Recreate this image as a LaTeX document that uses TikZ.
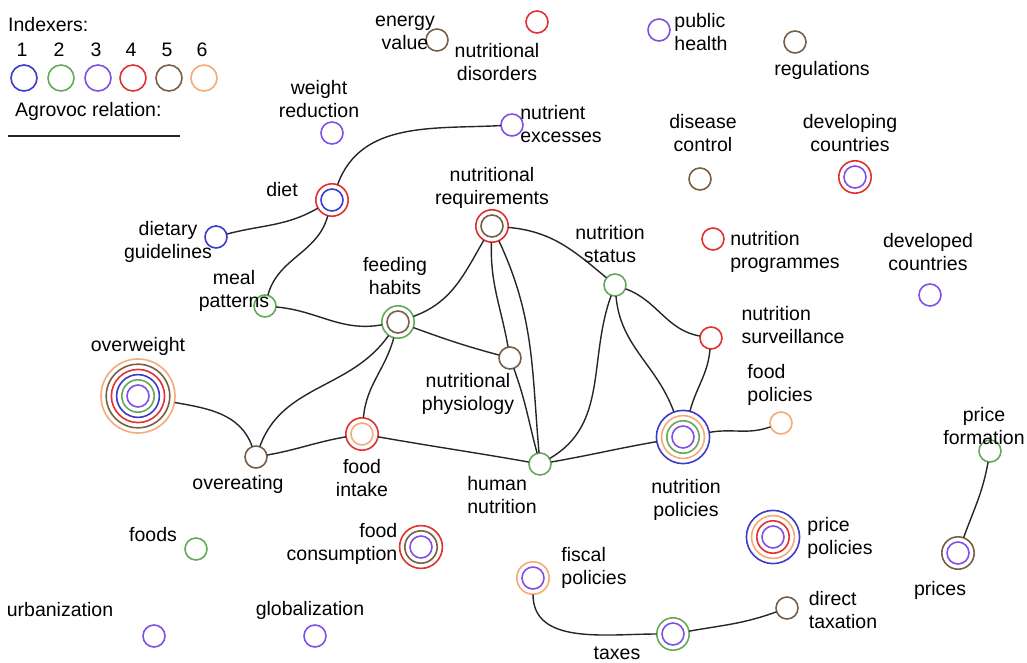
\documentclass[tikz,border=0pt]{standalone}
\usepackage{fontspec}
\setmainfont{Liberation Sans}
\definecolor{c1}{RGB}{60,60,200}
\definecolor{c2}{RGB}{100,170,90}
\definecolor{c3}{RGB}{130,80,230}
\definecolor{c4}{RGB}{225,50,50}
\definecolor{c5}{RGB}{120,95,70}
\definecolor{c6}{RGB}{245,170,120}
\newcommand\rnode[4]{%
  \pgfmathsetmacro\dout{2*(11+(#3-1)*5.2)}%
  \node[circle,inner sep=0pt,minimum size=\dout pt] (#1) at (#2) {};
  \fill[white] (#1.center) circle[radius=11pt];
  \foreach \col [count=\i] in {#4}{\draw[\col,line width=1.6pt] (#1.center) circle[radius={11pt+(\i-1)*5.2pt}];}
}
\tikzset{
  lab/.style={font=\fontsize{19.5}{23}\selectfont, align=center, inner sep=0pt},
  rel/.style={draw=black!85, line width=1.4pt},
  legc/.style={circle,draw=#1,line width=1.6pt,minimum size=26pt,inner sep=0pt}
}
\begin{document}
\begin{tikzpicture}[x=1pt,y=1pt]
\useasboundingbox (0,0) rectangle (1027,-663);
% legend
\node[lab,anchor=west] (legt) at (8,-25) {Indexers:};
\foreach \n/\x/\col in {1/22/c1,2/59/c2,3/96/c3,4/131/c4,5/167/c5,6/202/c6}{
  \node[lab] (legn\n) at (\x,-50) {\n};
  \node[legc=\col] (legc\n) at (\x+2,-78) {};
}
\node[lab,anchor=west] (legr) at (15,-111) {Agrovoc relation:};
\coordinate (lrA) at (8,-136);
\coordinate (lrB) at (180,-136);
\draw[rel] (lrA) -- (lrB);

% nodes
\rnode{energy}{437,-40}{1}{c5}
\rnode{disorders}{537,-22}{1}{c4}
\rnode{public}{659,-30}{1}{c3}
\rnode{regul}{795,-42}{1}{c5}
\rnode{weight}{332,-133}{1}{c3}
\rnode{excess}{512,-125}{1}{c3}
\rnode{disease}{700,-179}{1}{c5}
\rnode{developing}{855,-177}{2}{c3,c4}
\rnode{nutreq}{492,-226}{2}{c5,c4}
\rnode{diet}{332,-200}{2}{c1,c4}
\rnode{guide}{216,-237}{1}{c1}
\rnode{meal}{265,-306}{1}{c2}
\rnode{feeding}{398,-322}{2}{c5,c2}
\rnode{status}{615,-285}{1}{c2}
\rnode{program}{713,-239}{1}{c4}
\rnode{developed}{930,-295}{1}{c3}
\rnode{surv}{711,-338}{1}{c4}
\rnode{overweight}{138,-396}{6}{c3,c2,c1,c4,c5,c6}
\rnode{physio}{510,-358}{1}{c5}
\rnode{foodpol}{781,-423}{1}{c6}
\rnode{priceform}{990,-451}{1}{c2}
\rnode{intake}{362,-434}{2}{c6,c4}
\rnode{overeat}{256,-457}{1}{c5}
\rnode{human}{540,-464}{1}{c2}
\rnode{nutpol}{683,-437}{4}{c3,c2,c6,c1}
\rnode{foods}{196,-549}{1}{c2}
\rnode{consum}{421,-547}{3}{c3,c5,c4}
\rnode{pricepol}{773,-537}{4}{c3,c4,c6,c1}
\rnode{prices}{958,-553}{2}{c3,c5}
\rnode{fiscal}{533,-578}{2}{c3,c6}
\rnode{direct}{787,-608}{1}{c5}
\rnode{taxes}{673,-634}{2}{c3,c2}
\rnode{urban}{154,-636}{1}{c3}
\rnode{global}{315,-636}{1}{c3}

% labels
\node[lab] (lenergy) at (405,-33) {energy\\value};
\node[lab] (ldisorders) at (497,-62) {nutritional\\disorders};
\node[lab,align=left] (lpublic) at (701,-32) {public\\health};
\node[lab] (lregul) at (822,-70) {regulations};
\node[lab] (lweight) at (319,-99) {weight\\reduction};
\node[lab,align=left] (lexcess) at (561,-124) {nutrient\\excesses};
\node[lab] (ldisease) at (703,-133) {disease\\control};
\node[lab] (ldeveloping) at (850,-133) {developing\\countries};
\node[lab] (lnutreq) at (492,-188) {nutritional\\requirements};
\node[lab] (ldiet) at (282,-190) {diet};
\node[lab] (lguide) at (168,-242) {dietary\\guidelines};
\node[lab] (lmeal) at (234,-291) {meal\\patterns};
\node[lab] (lfeeding) at (395,-276) {feeding\\habits};
\node[lab] (lstatus) at (610,-244) {nutrition\\status};
\node[lab,align=left] (lprogram) at (785,-252) {nutrition\\programmes};
\node[lab] (ldeveloped) at (928,-252) {developed\\countries};
\node[lab,align=left] (lsurv) at (793,-325) {nutrition\\surveillance};
\node[lab] (loverweight) at (138,-346) {overweight};
\node[lab] (lphysio) at (468,-394) {nutritional\\physiology};
\node[lab,align=left] (lfoodpol) at (780,-385) {food\\policies};
\node[lab] (lpriceform) at (984,-426) {price\\formation};
\node[lab] (lintake) at (362,-478) {food\\intake};
\node[lab] (lovereat) at (238,-484) {overeating};
\node[lab,align=left] (lhuman) at (502,-495) {human\\nutrition};
\node[lab] (lnutpol) at (686,-500) {nutrition\\policies};
\node[lab] (lfoods) at (153,-535) {foods};
\node[lab,align=right] (lconsum) at (342,-544) {food\\consumption};
\node[lab,align=left] (lpricepol) at (840,-538) {price\\policies};
\node[lab] (lprices) at (940,-590) {prices};
\node[lab,align=left] (lfiscal) at (594,-568) {fiscal\\policies};
\node[lab,align=left] (ldirect) at (843,-610) {direct\\taxation};
\node[lab] (ltaxes) at (617,-653) {taxes};
\node[lab] (lurban) at (60,-610) {urbanization};
\node[lab] (lglobal) at (310,-610) {globalization};

% relations
\draw[rel] (diet) to[out=70,in=183] (excess);
\draw[rel] (diet) to[out=210,in=15] (guide);
\draw[rel] (diet) to[out=255,in=75] (meal);
\draw[rel] (meal) to[out=-5,in=190] (feeding);
\draw[rel] (feeding) to[out=20,in=240] (nutreq);
\draw[rel] (feeding) to[out=-20,in=165] (physio);
\draw[rel] (feeding) to[out=235,in=70] (overeat);
\draw[rel] (feeding) to[out=255,in=85] (intake);
\draw[rel] (nutreq) to[out=268,in=100] (physio);
\draw[rel] (nutreq) to[out=295,in=95] (human);
\draw[rel] (nutreq) to[out=-5,in=140] (status);
\draw[rel] (physio) to[out=-70,in=105] (human);
\draw[rel] (status) to[out=250,in=30] (human);
\draw[rel] (status) to[out=275,in=110] (nutpol);
\draw[rel] (status) to[out=-20,in=170] (surv);
\draw[rel] (surv) to[out=265,in=75] (nutpol);
\draw[rel] (nutpol) to[out=10,in=200] (foodpol);
\draw[rel] (nutpol) to[out=190,in=10] (human);
\draw[rel] (human) to[out=170,in=-10] (intake);
\draw[rel] (intake) to[out=190,in=10] (overeat);
\draw[rel] (overeat) to[out=110,in=-10] (overweight);
\draw[rel] (priceform) to[out=260,in=70] (prices);
\draw[rel] (fiscal) to[out=270,in=180] (taxes);
\draw[rel] (taxes) to[out=10,in=200] (direct);
\end{tikzpicture}
\end{document}
